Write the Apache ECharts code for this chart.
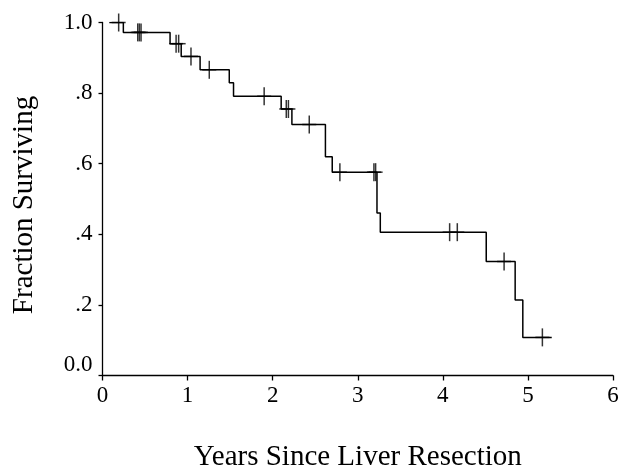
<!DOCTYPE html>
<html>
<head>
<meta charset="utf-8">
<script src="https://cdn.jsdelivr.net/npm/echarts@6/dist/echarts.min.js"></script>
<style>
html,body{margin:0;padding:0;background:#fff;}
#chart{width:619px;height:471px;}
</style>
</head>
<body>
<div id="chart"></div>
<script>
// Kaplan-Meier steps: [time (years), survival after step]
var stepTimes = [0.08, 0.245, 0.794, 0.925, 1.147, 1.49, 1.54, 2.10, 2.226, 2.62, 2.70, 3.226, 3.265, 4.51, 4.85, 4.94, 5.28];
var stepSurv  = [1.0, 0.972, 0.94, 0.904, 0.866, 0.829, 0.791, 0.755, 0.711, 0.620, 0.576, 0.46, 0.406, 0.323, 0.214, 0.108, 0.108];
// Censored observations
var censorTimes = [0.19, 0.414, 0.433, 0.453, 0.865, 0.895, 1.04, 1.255, 1.90, 2.16, 2.185, 2.43, 2.79, 3.19, 3.21, 4.08, 4.17, 4.72, 5.17];
var censorSurv  = [1.0, 0.972, 0.972, 0.972, 0.94, 0.94, 0.904, 0.866, 0.791, 0.755, 0.755, 0.711, 0.576, 0.576, 0.576, 0.406, 0.406, 0.323, 0.108];
var yTickLabels = {0: '0.0', 0.2: '.2', 0.4: '.4', 0.6: '.6', 0.8: '.8', 1: '1.0'};
var xTitle = 'Years Since Liver Resection';
var yTitle = 'Fraction Surviving';

var curve = stepTimes.map(function (t, i) { return [t, stepSurv[i]]; });
var censors = censorTimes.map(function (t, i) { return [t, censorSurv[i]]; });
var font = '"Liberation Serif", "Times New Roman", serif';

var chart = echarts.init(document.getElementById('chart'), null, {renderer: 'canvas'});
chart.setOption({
  animation: false,
  backgroundColor: '#fff',
  grid: {left: 102.5, right: 6, top: 22.5, bottom: 95.5, containLabel: false, outerBoundsMode: 'none'},
  xAxis: {
    type: 'value', min: 0, max: 6, interval: 1,
    name: xTitle, nameLocation: 'middle', nameGap: 67,
    nameTextStyle: {fontFamily: font, fontSize: 29, color: '#000'},
    axisLine: {show: true, lineStyle: {color: '#000', width: 1.3}},
    axisTick: {show: true, length: 5, lineStyle: {color: '#000', width: 1.3}},
    axisLabel: {fontFamily: font, fontSize: 23, color: '#000', margin: 9},
    splitLine: {show: false}
  },
  yAxis: {
    type: 'value', min: 0, max: 1, interval: 0.2,
    name: yTitle, nameLocation: 'middle', nameGap: 64,
    nameTextStyle: {fontFamily: font, fontSize: 29, color: '#000', padding: [0, 12, 0, 0]},
    axisLine: {show: true, lineStyle: {color: '#000', width: 1.3}},
    axisTick: {show: true, length: 4, lineStyle: {color: '#000', width: 1.3}},
    axisLabel: {
      fontFamily: font, fontSize: 23, color: '#000', margin: 10,
      formatter: function (v) {
        var key = Math.round(v * 10) / 10;
        var s = yTickLabels[key];
        return key === 0 ? '{z|' + s + '}' : s;
      },
      rich: {z: {fontFamily: font, fontSize: 23, color: '#000', padding: [0, 0, 22, 0]}}
    },
    splitLine: {show: false}
  },
  series: [
    {
      type: 'line', step: 'end', data: curve, symbol: 'none',
      lineStyle: {color: '#000', width: 1.5}, z: 2
    },
    {
      type: 'scatter', data: censors, symbol: 'rect', symbolSize: [1.5, 18],
      itemStyle: {color: '#000'}, z: 3
    },
    {
      type: 'scatter', data: censors, symbol: 'rect', symbolSize: [14, 1.5],
      itemStyle: {color: '#000'}, z: 3
    }
  ]
});
</script>
</body>
</html>
